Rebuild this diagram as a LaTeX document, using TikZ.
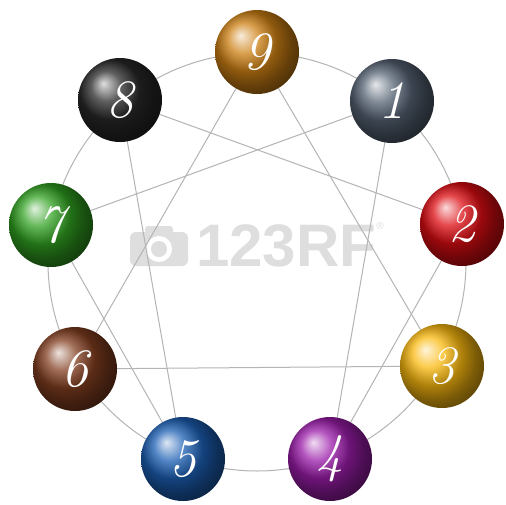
\documentclass[tikz,border=0pt]{standalone}
\usepackage{fontspec}
\newfontfamily\wmfont{Liberation Sans}
\usetikzlibrary{backgrounds}
\definecolor{c9}{RGB}{205,128,20}
\definecolor{c1}{RGB}{85,98,115}
\definecolor{c2}{RGB}{220,12,18}
\definecolor{c3}{RGB}{250,185,15}
\definecolor{c4}{RGB}{155,28,170}
\definecolor{c5}{RGB}{28,95,180}
\definecolor{c6}{RGB}{130,62,32}
\definecolor{c7}{RGB}{48,160,32}
\definecolor{c8}{RGB}{40,40,40}
\definecolor{linegray}{RGB}{180,180,180}
\definecolor{wmgray}{RGB}{222,222,222}
\tikzset{
  sphere/.style={circle, minimum size=84pt, inner sep=0pt, shade, ball color=#1,
    text=white, font=\fontsize{54}{54}\selectfont\itshape},
  link/.style={draw=linegray, line width=1pt}
}
\begin{document}
\begin{tikzpicture}[x=1pt,y=-1pt]
\useasboundingbox (0,0) rectangle (506,504);
% spheres
\coordinate (ctr) at (257,262);
\node[sphere=c9] (n9) at (257,52) {9};
\node[sphere=c1] (n1) at (392,101) {1};
\node[sphere=c2] (n2) at (462,224) {2};
\node[sphere=c3] (n3) at (442,366) {3};
\node[sphere=c4] (n4) at (330,459) {4};
\node[sphere=c5] (n5) at (183,459) {5};
\node[sphere=c6] (n6) at (75,369) {6};
\node[sphere=c7] (n7) at (51,225) {7};
\node[sphere=c8] (n8) at (120,100) {8};
\begin{scope}[on background layer]
  \fill[white] (0,0) rectangle (506,504);
  % watermark
  \fill[wmgray, rounded corners=6pt] (130,232) rectangle (188,266);
  \fill[wmgray, rounded corners=3pt] (145,226) rectangle (173,234);
  \fill[white] (159,249) circle (13);
  \fill[wmgray] (159,249) circle (8);
  \node[text=wmgray, font=\wmfont\bfseries\fontsize{60}{60}\selectfont, anchor=west, inner sep=0pt] (wm) at (196,246) {123RF};
  \node[text=wmgray, font=\wmfont\fontsize{10}{10}\selectfont, inner sep=0pt] (reg) at (380,226) {\textregistered};
  % connectors
  \draw[link] (ctr) circle (209);
  \draw[link] (n9.center) -- (n3.center) -- (n6.center) -- (n9.center);
  \draw[link] (n1.center) -- (n4.center) -- (n2.center) -- (n8.center) -- (n5.center) -- (n7.center) -- (n1.center);
\end{scope}
\end{tikzpicture}
\end{document}
